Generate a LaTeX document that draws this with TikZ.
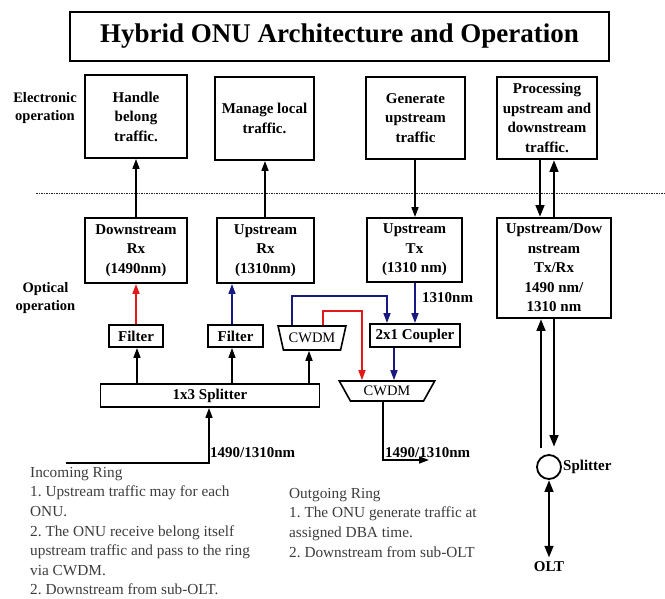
\documentclass[tikz,border=0pt]{standalone}
\usepackage{fontspec}
\setmainfont{Liberation Serif}
\usetikzlibrary{arrows.meta,shapes.geometric}
\definecolor{redarr}{RGB}{225,25,25}
\definecolor{bluearr}{RGB}{25,25,130}
\definecolor{notegray}{RGB}{60,60,60}
\frenchspacing
\begin{document}
\begin{tikzpicture}[x=1pt,y=-1pt,
  box/.style={draw, line width=1.9pt, inner sep=0, align=center,
    font=\fontsize{15}{19.5}\selectfont\bfseries},
  small/.style={draw, line width=1.9pt, inner sep=0, align=center,
    font=\fontsize{15}{18}\selectfont\bfseries},
  cwdm/.style={trapezium, draw, line width=1.6pt, shape border rotate=180,
    trapezium stretches=true, inner sep=0, font=\fontsize{14.5}{16}\selectfont},
  lbl/.style={inner sep=1pt, font=\fontsize{15}{18}\selectfont\bfseries},
  side/.style={inner sep=0, align=center, font=\fontsize{14.5}{18.5}\selectfont\bfseries},
  note/.style={inner sep=0, align=left, text=notegray,
    font=\fontsize{15.3}{19.6}\selectfont},
  arr/.style={line width=1.6pt, -{Triangle[length=10pt,width=7pt]}},
  thickarr/.style={line width=2.8pt, -{Triangle[length=12pt,width=8.5pt]}},
  dblarr/.style={line width=2.8pt, {Triangle[length=12pt,width=8.5pt]}-{Triangle[length=12pt,width=8.5pt]}},
  sep/.style={line width=0.9pt, dash pattern=on 1.5pt off 1pt, black!85}
]
\useasboundingbox (0,0) rectangle (665,598);

% title
\node[draw, line width=2.2pt, minimum width=539pt, minimum height=49pt,
  font=\fontsize{27}{30}\selectfont\bfseries] (title) at (339.5,36.5)
  {Hybrid ONU Architecture and Operation};

% side labels
\node[side] (elab) at (45,108) {Electronic\\operation};
\node[side] (olab) at (45.5,298) {Optical\\operation};

% separator
\draw[sep] (36,193) -- (665,193);

% electronic boxes
\node[box, minimum width=102pt, minimum height=83pt] (e1) at (136,116.5) {Handle\\belong\\traffic.};
\node[box, minimum width=99pt, minimum height=83pt] (e2) at (264.5,118.5) {Manage local\\traffic.};
\node[box, minimum width=99pt, minimum height=82pt] (e3) at (415.5,118) {Generate\\upstream\\traffic};
\node[box, minimum width=100pt, minimum height=82pt] (e4) at (547,118) {Processing\\upstream and\\downstream\\traffic.};

% optical boxes
\node[box, minimum width=102pt, minimum height=65pt] (o1) at (136,250.5) {Downstream\\Rx\\(1490nm)};
\node[box, minimum width=97pt, minimum height=65pt] (o2) at (265.5,250.5) {Upstream\\Rx\\(1310nm)};
\node[box, minimum width=95pt, minimum height=64pt] (o3) at (414.5,250) {Upstream\\Tx\\(1310 nm)};
\node[box, minimum width=114pt, minimum height=100pt] (o4) at (554,268) {Upstream/Dow\\nstream\\Tx/Rx\\1490 nm/\\1310 nm};

% filters, coupler, splitter
\node[small, minimum width=54pt, minimum height=22pt] (f1) at (136,336) {Filter};
\node[small, minimum width=55pt, minimum height=22pt] (f2) at (235.5,336) {Filter};
\node[small, minimum width=90pt, minimum height=23pt] (cp) at (415,335.5) {2x1 Coupler};
\node[small, minimum width=219pt, minimum height=23pt] (sp) at (210,395.5) {1x3 Splitter};

% CWDMs
\node[cwdm, minimum width=68pt, minimum height=24pt, trapezium left angle=66, trapezium right angle=66] (cw1) at (312,338) {CWDM};
\node[cwdm, minimum width=96pt, minimum height=20pt, trapezium left angle=54, trapezium right angle=54] (cw2) at (387,391) {CWDM};

% electronic/optical arrows
\draw[arr] (o1.north) -- (e1.south);
\draw[arr] (265,0 |- o2.north) -- (265,0 |- e2.south);
\draw[arr] (415,0 |- e3.south) -- (415,0 |- o3.north);
\draw[thickarr] (540,0 |- e4.south) -- (540,0 |- o4.north);
\draw[thickarr] (554,0 |- o4.north) -- (554,0 |- e4.south);

% filters to receivers
\draw[arr, redarr] (f1.north) -- (o1.south);
\draw[arr, bluearr] (232,0 |- f2.north) -- (232,0 |- o2.south);

% splitter outputs
\draw[arr] (137,0 |- sp.north) -- (137,0 |- f1.south);
\draw[arr] (232,0 |- sp.north) -- (232,0 |- f2.south);
\draw[arr] (309,0 |- sp.north) -- (309,0 |- cw1.south);

% Tx to coupler
\draw[arr, bluearr] (415,0 |- o3.south) -- (415,0 |- cp.north);
\node[lbl, anchor=west] (l1310) at (421,298) {1310nm};

% CWDM1 paths
\draw[arr, bluearr] (292,0 |- cw1.north) -- (292,296) -- (387,296) -- (387,0 |- cp.north);
\draw[arr, redarr] (323,0 |- cw1.north) -- (323,311) -- (362,311) -- (362,0 |- cw2.north);
\draw[arr, bluearr] (394,0 |- cp.south) -- (394,0 |- cw2.north);

% ring input / output
\coordinate (inA) at (66,463);
\draw[arr] (inA) -- (209,463) -- (209,0 |- sp.south);
\node[lbl, anchor=west] (lin) at (209,453) {1490/1310nm};
\coordinate (outA) at (429,460);
\draw[arr] (383,0 |- cw2.south) |- (outA);
\node[lbl, anchor=west] (lout) at (384,453) {1490/1310nm};

% right column
\node[circle, draw, line width=1.8pt, minimum size=24pt, inner sep=0] (sc) at (549,467) {};
\node[lbl, anchor=west] (scl) at (562,467) {Splitter};
\node[lbl] (olt) at (549,567) {OLT};
\coordinate (upS) at (541,448);
\coordinate (dnE) at (554,447);
\draw[thickarr] (upS) -- (541,0 |- o4.south);
\draw[thickarr] (554,0 |- o4.south) -- (dnE);
\draw[dblarr, shorten >=3pt] (sc.south) -- (olt.north);

% notes
\node[note, anchor=north west] (inc) at (30,467) {Incoming Ring\\
1. Upstream traffic may for each\\
ONU.\\
2. The ONU receive belong itself\\
upstream traffic and pass to the ring\\
via CWDM.\\
2. Downstream from sub-OLT.};
\node[note, anchor=north west] (outg) at (289,488) {Outgoing Ring\\
1. The ONU generate traffic at\\
assigned DBA time.\\
2. Downstream from sub-OLT};
\end{tikzpicture}
\end{document}
